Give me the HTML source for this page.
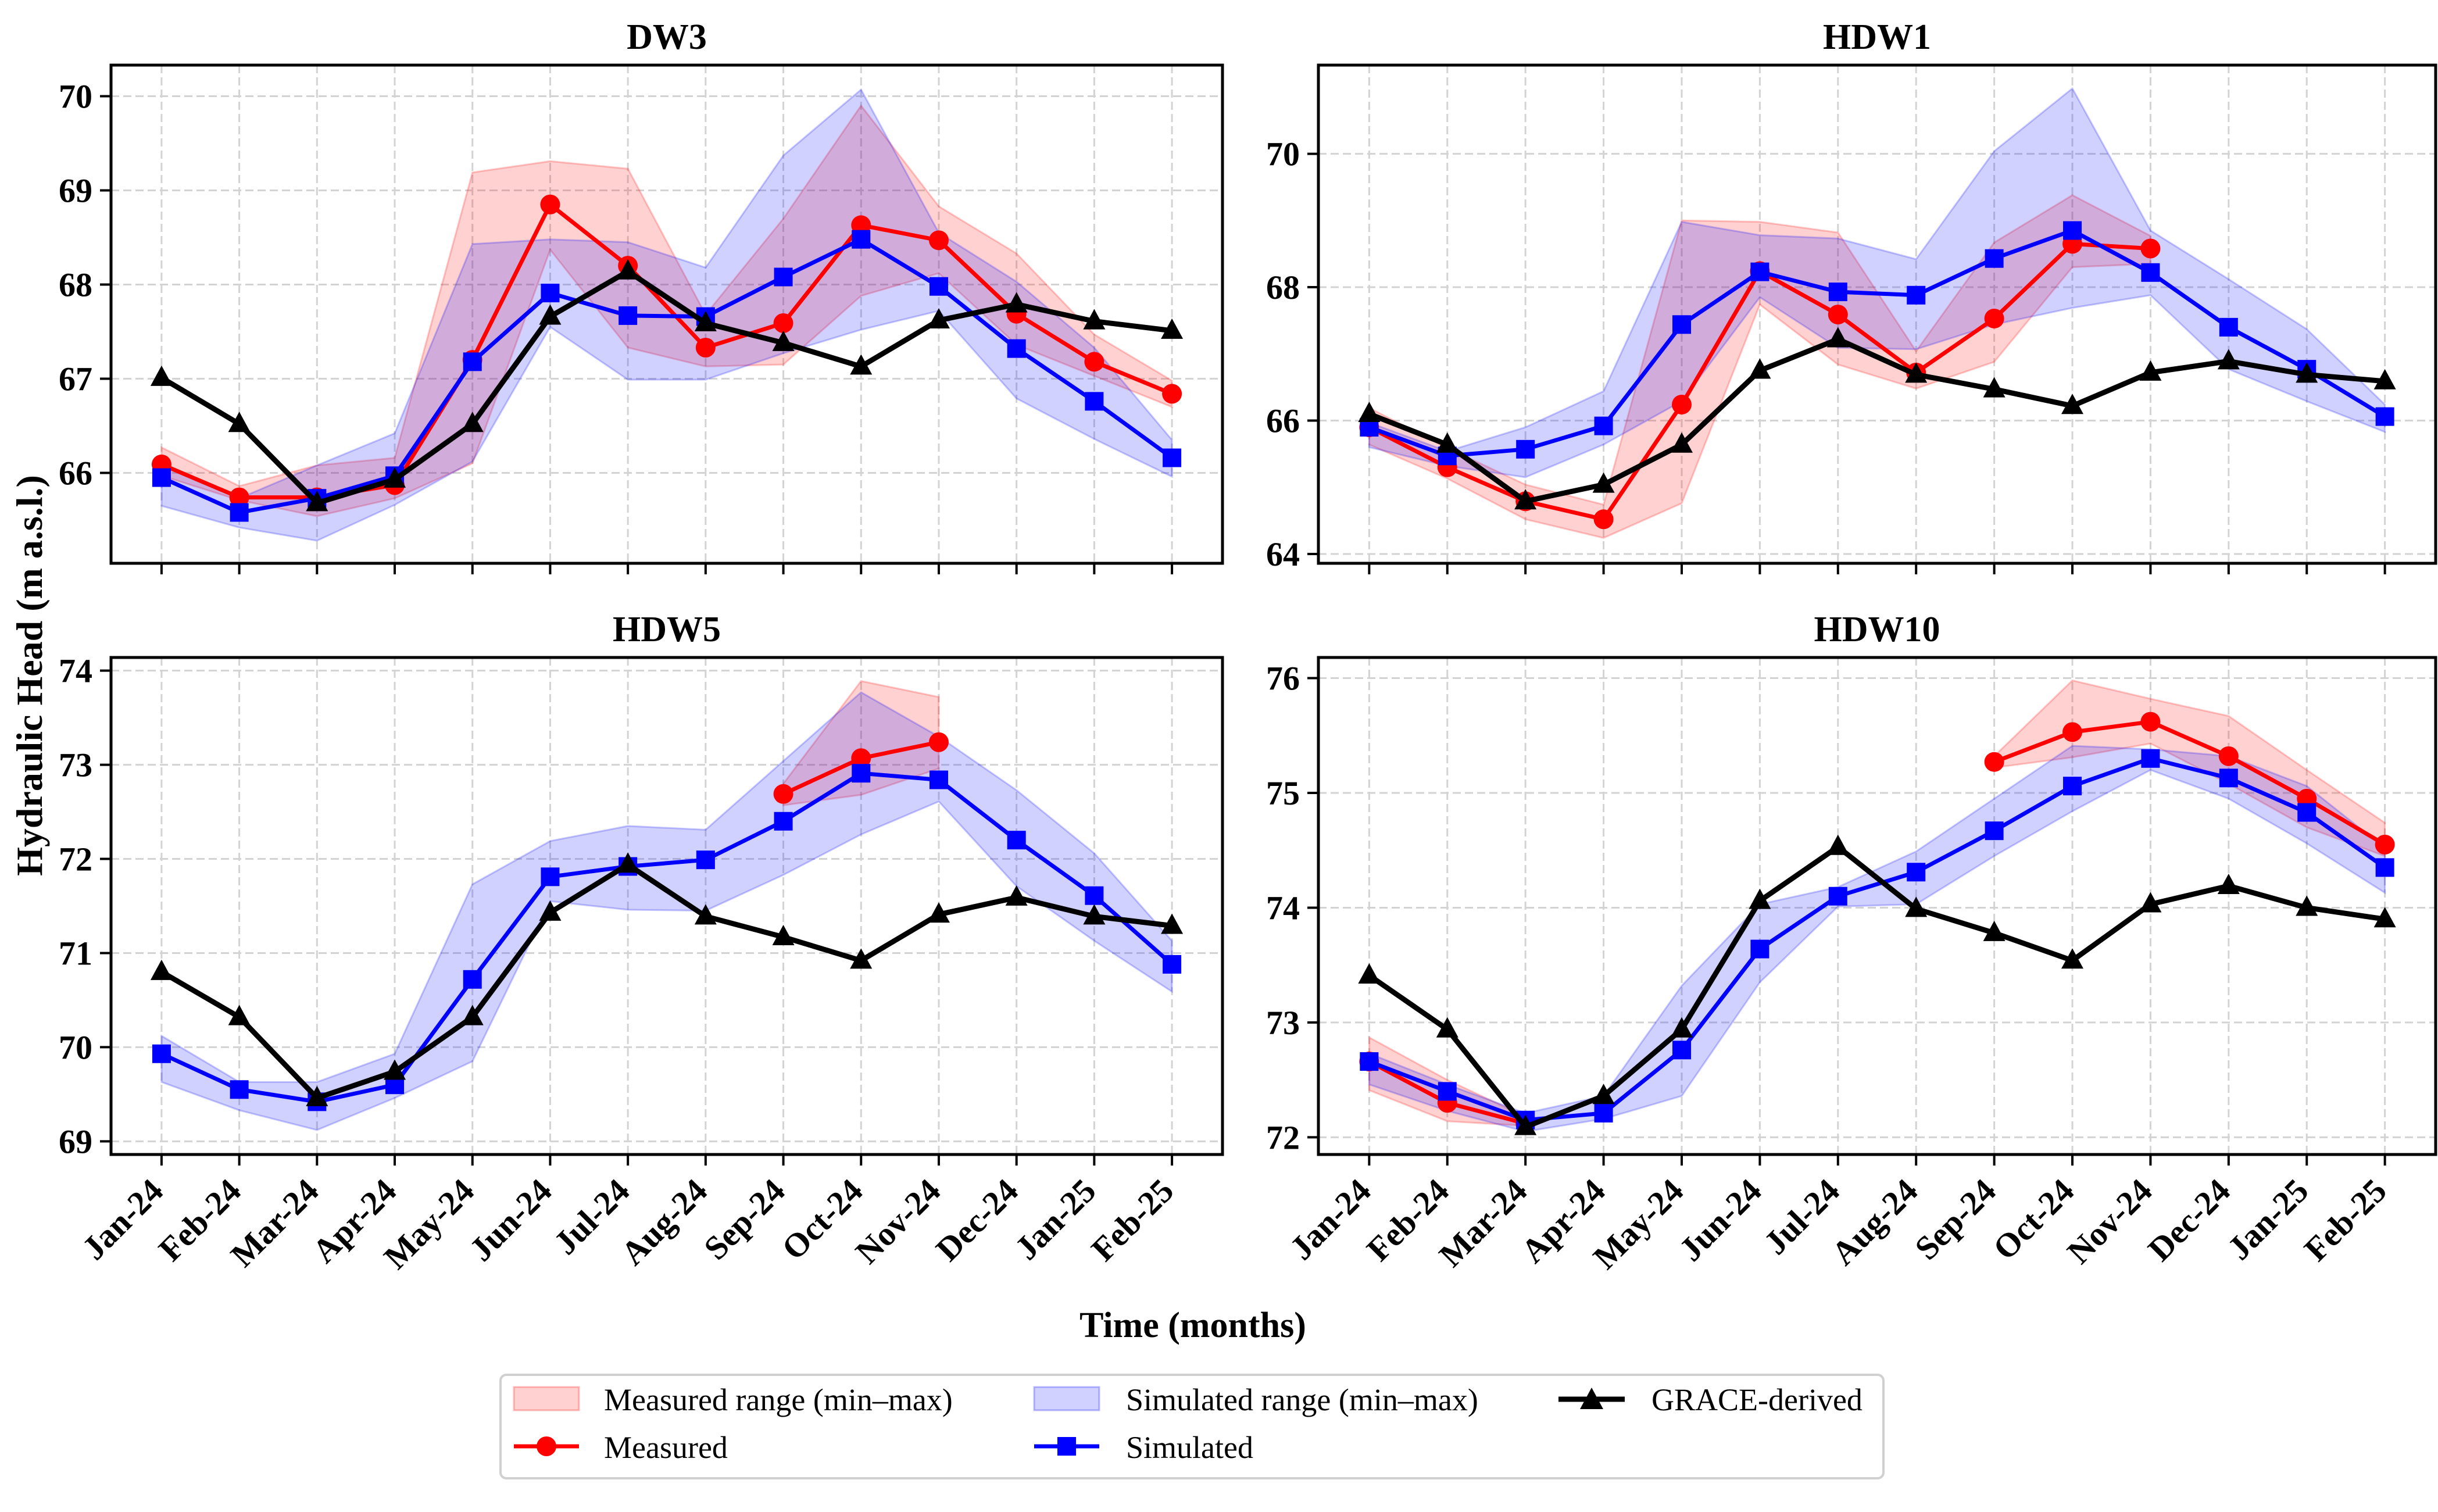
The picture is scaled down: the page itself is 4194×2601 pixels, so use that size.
<!DOCTYPE html>
<html><head><meta charset="utf-8"><style>
html,body{margin:0;padding:0;background:#fff;}
svg{display:block;}
svg text{font-family:"Liberation Serif","Times New Roman",serif;font-weight:bold;}
</style></head><body>
<svg id="chart" width="4194" height="2601" viewBox="0 0 4194 2601" xmlns="http://www.w3.org/2000/svg" font-family="Liberation Serif, serif" font-weight="bold">
<rect x="0" y="0" width="4194" height="2601" fill="#fff"/>
<text x="0" y="0" transform="translate(72,1162) rotate(-90)" text-anchor="middle" font-size="64">Hydraulic Head (m a.s.l.)</text>
<text x="2052" y="2300" text-anchor="middle" font-size="62">Time (months)</text>
<g>
<rect x="861" y="2365" width="2379" height="178" rx="10" fill="#fff" stroke="#d0d0d0" stroke-width="4"/>
<g><rect x="884" y="2386" width="112" height="40" fill="rgba(255,0,0,0.18)" stroke="rgba(255,0,0,0.25)" stroke-width="3"/><text x="1039" y="2426" font-size="54" style="font-weight:normal">Measured range (min–max)</text></g>
<g><rect x="1779" y="2386" width="112" height="40" fill="rgba(0,0,255,0.18)" stroke="rgba(0,0,255,0.25)" stroke-width="3"/><text x="1937" y="2426" font-size="54" style="font-weight:normal">Simulated range (min–max)</text></g>
<g><line x1="2681" y1="2407" x2="2795" y2="2407" stroke="#000" stroke-width="9"/><polygon points="2738,2387 2758,2424 2718,2424" fill="#000"/><text x="2841" y="2426" font-size="54" style="font-weight:normal">GRACE-derived</text></g>
<g><line x1="884" y1="2488" x2="996" y2="2488" stroke="#f00" stroke-width="7"/><circle cx="940" cy="2488" r="17" fill="#f00"/><text x="1039" y="2508" font-size="54" style="font-weight:normal">Measured</text></g>
<g><line x1="1779" y1="2488" x2="1891" y2="2488" stroke="#00f" stroke-width="7"/><rect x="1819" y="2472" width="32" height="32" fill="#00f"/><text x="1937" y="2508" font-size="54" style="font-weight:normal">Simulated</text></g>
</g>
<g id="panels"></g>
</svg>
<script>
const months = ["Jan-24","Feb-24","Mar-24","Apr-24","May-24","Jun-24","Jul-24","Aug-24","Sep-24","Oct-24","Nov-24","Dec-24","Jan-25","Feb-25"];
const panelNames = ["DW3","HDW1","HDW5","HDW10"];
const N = null;
// DW3
const dw3Grace = [67.01,66.52,65.68,65.93,66.52,67.66,68.14,67.59,67.38,67.13,67.62,67.79,67.61,67.51];
const dw3Sim = [65.95,65.58,65.73,65.97,67.18,67.91,67.67,67.66,68.08,68.48,67.98,67.32,66.76,66.16];
const dw3SimMax = [66.10,65.73,66.08,66.42,68.43,68.48,68.45,68.18,69.37,70.07,68.55,68.03,67.33,66.35];
const dw3SimMin = [65.65,65.42,65.28,65.66,66.12,67.55,66.99,66.99,67.27,67.52,67.72,66.79,66.36,65.96];
const dw3Meas = [66.09,65.74,65.74,65.87,67.20,68.85,68.20,67.33,67.59,68.63,68.47,67.69,67.18,66.84];
const dw3MeasMax = [66.27,65.86,66.08,66.16,69.19,69.31,69.23,67.68,68.70,69.90,68.83,68.33,67.47,66.98];
const dw3MeasMin = [65.97,65.71,65.54,65.73,66.10,68.37,67.33,67.13,67.15,67.88,68.12,67.36,67.03,66.70];
// HDW1
const hdw1Grace = [66.10,65.64,64.79,65.04,65.64,66.75,67.22,66.69,66.47,66.22,66.72,66.89,66.69,66.59];
const hdw1Sim = [65.90,65.47,65.57,65.92,67.44,68.23,67.93,67.88,68.43,68.85,68.22,67.40,66.77,66.06];
const hdw1SimMax = [65.97,65.54,65.90,66.44,68.98,68.78,68.73,68.42,70.04,70.98,68.85,68.12,67.37,66.24];
const hdw1SimMin = [65.60,65.32,65.15,65.64,66.29,67.85,67.09,67.07,67.44,67.69,67.88,66.77,66.29,65.83];
const hdw1Meas = [65.90,65.30,64.79,64.52,66.24,68.24,67.59,66.72,67.53,68.65,68.58,N,N,N];
const hdw1MeasMax = [66.19,65.59,65.04,64.74,69.00,68.98,68.82,67.04,68.67,69.38,68.77,N,N,N];
const hdw1MeasMin = [65.64,65.13,64.52,64.24,64.76,67.74,66.84,66.48,66.88,68.30,68.35,N,N,N];
// HDW5
const hdw5Grace = [70.80,70.32,69.46,69.74,70.32,71.43,71.94,71.39,71.17,70.92,71.41,71.59,71.39,71.29];
const hdw5Sim = [69.93,69.55,69.42,69.60,70.72,71.81,71.92,71.99,72.40,72.91,72.84,72.20,71.61,70.88];
const hdw5SimMax = [70.12,69.63,69.63,69.93,71.73,72.19,72.35,72.31,73.04,73.77,73.30,72.73,72.06,71.13];
const hdw5SimMin = [69.63,69.33,69.12,69.46,69.85,71.55,71.46,71.45,71.83,72.26,72.61,71.71,71.13,70.59];
const hdw5Meas = [N,N,N,N,N,N,N,N,72.69,73.07,73.24,N,N,N];
const hdw5MeasMax = [N,N,N,N,N,N,N,N,72.80,73.89,73.72,N,N,N];
const hdw5MeasMin = [N,N,N,N,N,N,N,N,72.57,72.68,72.96,N,N,N];
// HDW10
const hdw10Grace = [73.41,72.94,72.09,72.36,72.94,74.06,74.53,73.99,73.78,73.54,74.03,74.19,74.00,73.90];
const hdw10Sim = [72.66,72.40,72.15,72.21,72.76,73.64,74.10,74.31,74.67,75.06,75.30,75.13,74.83,74.35];
const hdw10SimMax = [72.73,72.46,72.21,72.36,73.32,74.03,74.18,74.49,74.95,75.41,75.38,75.32,75.06,74.52];
const hdw10SimMin = [72.46,72.23,72.05,72.16,72.36,73.35,74.01,74.03,74.45,74.84,75.20,74.95,74.56,74.13];
const hdw10Meas = [72.66,72.30,72.12,N,N,N,N,N,75.27,75.53,75.62,75.32,74.95,74.55];
const hdw10MeasMax = [72.87,72.50,72.18,N,N,N,N,N,75.32,75.98,75.82,75.67,75.20,74.74];
const hdw10MeasMin = [72.41,72.14,72.10,N,N,N,N,N,75.22,75.31,75.43,75.08,74.70,74.45];
const yTicksDW3 = [66,67,68,69,70];
const yTicksHDW1 = [64,66,68,70];
const yTicksHDW5 = [69,70,71,72,73,74];
const yTicksHDW10 = [72,73,74,75,76];

const NS = "http://www.w3.org/2000/svg";
const root = document.getElementById("panels");
function mk(tag, attrs, parent){const e=document.createElementNS(NS,tag);for(const k in attrs)e.setAttribute(k,attrs[k]);parent.appendChild(e);return e;}

const layouts = [
 {x0:191,x1:2103,y0:112,y1:969,ymin:65.04,ymax:70.33,ticks:yTicksDW3,g:dw3Grace,s:dw3Sim,smax:dw3SimMax,smin:dw3SimMin,m:dw3Meas,mmax:dw3MeasMax,mmin:dw3MeasMin,labels:false,key:"dw3"},
 {x0:2268,x1:4190,y0:112,y1:969,ymin:63.86,ymax:71.33,ticks:yTicksHDW1,g:hdw1Grace,s:hdw1Sim,smax:hdw1SimMax,smin:hdw1SimMin,m:hdw1Meas,mmax:hdw1MeasMax,mmin:hdw1MeasMin,labels:false,key:"hdw1"},
 {x0:191,x1:2103,y0:1131,y1:1986,ymin:68.86,ymax:74.14,ticks:yTicksHDW5,g:hdw5Grace,s:hdw5Sim,smax:hdw5SimMax,smin:hdw5SimMin,m:hdw5Meas,mmax:hdw5MeasMax,mmin:hdw5MeasMin,labels:true,key:"hdw5"},
 {x0:2268,x1:4190,y0:1131,y1:1986,ymin:71.85,ymax:76.18,ticks:yTicksHDW10,g:hdw10Grace,s:hdw10Sim,smax:hdw10SimMax,smin:hdw10SimMin,m:hdw10Meas,mmax:hdw10MeasMax,mmin:hdw10MeasMin,labels:true,key:"hdw10"}
];

layouts.forEach((L,pi)=>{
 const g = mk("g",{},root);
 
 
 const n = months.length;
 const step = (L.x1-L.x0)/((n-1)*1.1);
 const pad = step*(n-1)*0.05;
 const X = i => L.x0+pad+i*step;
 const Y = v => L.y1-(v-L.ymin)/(L.ymax-L.ymin)*(L.y1-L.y0);
 const t = mk("text",{x:(L.x0+L.x1)/2,y:L.y0-28,"text-anchor":"middle","font-size":"62"},g);
 t.textContent = panelNames[pi];
 
 
 months.forEach((mo,i)=>{
  const gl = mk("line",{x1:X(i),x2:X(i),y1:L.y0,y2:L.y1,stroke:"#d3d3d3","stroke-width":"3","stroke-dasharray":"14,7"},g);
  
  
 });
 L.ticks.forEach(v=>{
  const gl = mk("line",{x1:L.x0,x2:L.x1,y1:Y(v),y2:Y(v),stroke:"#d3d3d3","stroke-width":"3","stroke-dasharray":"14,7"},g);
  
  
  const tk = mk("line",{x1:L.x0-19,x2:L.x0,y1:Y(v),y2:Y(v),stroke:"#000","stroke-width":"4"},g);
  
  
  const tl = mk("text",{x:L.x0-32,y:Y(v)+20,"text-anchor":"end","font-size":"58"},g);
  tl.textContent = String(v);
  
  
 });
 function band(maxA,minA,fill,stroke,name){
  let segs=[],cur=[];
  maxA.forEach((v,i)=>{ if(v!==null&&minA[i]!==null){cur.push(i);} else {if(cur.length)segs.push(cur);cur=[];} });
  if(cur.length)segs.push(cur);
  segs.forEach(sg=>{
   const pts = sg.map(i=>X(i)+","+Y(maxA[i])).concat(sg.slice().reverse().map(i=>X(i)+","+Y(minA[i])));
   const p = mk("polygon",{points:pts.join(" "),fill:fill,stroke:stroke,"stroke-width":"3"},g);
   
   
  });
 }
 band(L.mmax,L.mmin,"rgba(255,0,0,0.18)","rgba(255,0,0,0.22)","measured-range-band");
 band(L.smax,L.smin,"rgba(0,0,255,0.18)","rgba(0,0,255,0.22)","simulated-range-band");
 function series(arr,color,w,marker,name){
  let segs=[],cur=[];
  arr.forEach((v,i)=>{ if(v!==null)cur.push(i); else {if(cur.length)segs.push(cur);cur=[];} });
  if(cur.length)segs.push(cur);
  segs.forEach(sg=>{
   const pl = mk("polyline",{points:sg.map(i=>X(i)+","+Y(arr[i])).join(" "),fill:"none",stroke:color,"stroke-width":w,"stroke-linejoin":"round"},g);
   
   
  });
  arr.forEach((v,i)=>{
   if(v===null)return;
   const x=X(i),y=Y(v);let m;
   if(marker==="o") m = mk("circle",{cx:x,cy:y,r:17,fill:color},g);
   else if(marker==="s") m = mk("rect",{x:x-16,y:y-16,width:32,height:32,fill:color},g);
   else m = mk("polygon",{points:`${x},${y-21} ${x+19},${y+14} ${x-19},${y+14}`,fill:color},g);
   
   
  });
 }
 series(L.m,"#f00",7,"o","measured");
 series(L.s,"#00f",7,"s","simulated");
 series(L.g,"#000",9,"^","grace");
 const fr = mk("rect",{x:L.x0,y:L.y0,width:L.x1-L.x0,height:L.y1-L.y0,fill:"none",stroke:"#000","stroke-width":"5"},g);
 
 
 months.forEach((mo,i)=>{
  const tk = mk("line",{x1:X(i),x2:X(i),y1:L.y1,y2:L.y1+19,stroke:"#000","stroke-width":"4"},g);
  
  
  if(L.labels){
   const ax=X(i)+6, ay=L.y1+66;
   const tl = mk("text",{x:ax,y:ay,"text-anchor":"end","font-size":"58",transform:`rotate(-45 ${ax} ${ay})`},g);
   tl.textContent = mo;
   
   
  }
 });
});
</script>
</body></html>
